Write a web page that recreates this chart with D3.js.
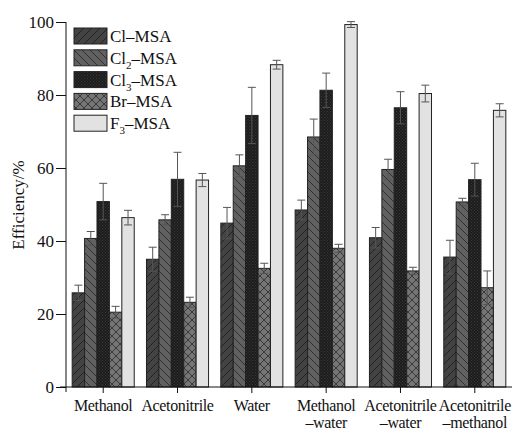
<!DOCTYPE html>
<html><head><meta charset="utf-8">
<script src="https://cdn.jsdelivr.net/npm/d3@7"></script>
<style>body{margin:0;background:#fff}svg{display:block}text{font-family:"Liberation Serif","Times New Roman",serif;fill:#111}</style>
</head><body><div id="c"></div>
<script>
const categories = [["Methanol"],["Acetonitrile"],["Water"],["Methanol","\u2013water"],["Acetonitrile","\u2013water"],["Acetonitrile","\u2013methanol"]];
const seriesNames = [["Cl\u2013MSA",""],["Cl","2","\u2013MSA"],["Cl","3","\u2013MSA"],["Br\u2013MSA",""],["F","3","\u2013MSA"]];
const clMSA  = [25.8, 35.0, 44.9, 48.5, 40.9, 35.6];
const cl2MSA = [40.7, 45.8, 60.6, 68.5, 59.6, 50.7];
const cl3MSA = [50.8, 56.9, 74.4, 81.3, 76.5, 56.8];
const brMSA  = [20.5, 23.2, 32.5, 38.0, 31.8, 27.2];
const f3MSA  = [46.4, 56.7, 88.3, 99.3, 80.4, 75.8];
const clErr  = [2.1, 3.3, 4.3, 2.7, 2.8, 4.6];
const cl2Err = [1.9, 1.4, 3.0, 4.9, 2.8, 1.0];
const cl3Err = [5.0, 7.4, 7.7, 4.7, 4.4, 4.5];
const brErr  = [1.6, 1.4, 1.4, 1.1, 1.0, 4.6];
const f3Err  = [2.0, 1.8, 1.2, 0.8, 2.3, 1.8];
const yTicks = [0, 20, 40, 60, 80, 100];

const values = [clMSA, cl2MSA, cl3MSA, brMSA, f3MSA];
const errs = [clErr, cl2Err, cl3Err, brErr, f3Err];

const W = 532, H = 432;
const svg = d3.select("#c").append("svg").attr("width", W).attr("height", H);
const defs = svg.append("defs");
function pat(id, bg, fn, size) {
  const p = defs.append("pattern").attr("id", id).attr("patternUnits", "userSpaceOnUse")
    .attr("width", size).attr("height", size);
  p.append("rect").attr("width", size).attr("height", size).attr("fill", bg);
  fn(p, size);
}
pat("p0", "#434343", (p, s) => {
  p.append("path").attr("d", `M0,${s} L${s},0 M${-s/2},${s/2} L${s/2},${-s/2} M${s/2},${s*1.5} L${s*1.5},${s/2}`).attr("stroke", "#1f1f1f").attr("stroke-width", 0.9);
}, 8);
pat("p1", "#616161", (p, s) => {
  p.append("path").attr("d", `M0,0 L${s},${s} M${-s/2},${s/2} L${s/2},${s*1.5} M${s/2},${-s/2} L${s*1.5},${s/2}`).attr("stroke", "#2a2a2a").attr("stroke-width", 0.9);
}, 8);
pat("p2", "#1c1c1c", (p, s) => {
  p.append("rect").attr("x", 0).attr("y", 0).attr("width", 1).attr("height", 1).attr("fill", "#3a3a3a");
  p.append("rect").attr("x", 1.5).attr("y", 1.5).attr("width", 1).attr("height", 1).attr("fill", "#3a3a3a");
}, 3);
pat("p3", "#757575", (p, s) => {
  p.append("path").attr("d", `M0,0 L${s},${s} M0,${s} L${s},0`).attr("stroke", "#333").attr("stroke-width", 0.9);
}, 8);
pat("p4", "#e2e2e2", () => {}, 4);

const x0 = d3.scaleBand().domain(d3.range(categories.length)).range([66, 512]).paddingInner(0.165).paddingOuter(0.083);
const x1 = d3.scaleBand().domain(d3.range(5)).range([0, x0.bandwidth()]);
const y = d3.scaleLinear().domain([0, 100]).range([387, 22]);

const g = svg.append("g");
values.forEach((vals, s) => {
  const gs = g.append("g");
  gs.selectAll("rect").data(vals).join("rect")
    .attr("x", (d, i) => x0(i) + x1(s))
    .attr("y", d => y(d))
    .attr("width", x1.bandwidth())
    .attr("height", d => y(0) - y(d))
    .attr("fill", `url(#p${s})`)
    .attr("stroke", "#222").attr("stroke-width", 1);
});
values.forEach((vals, s) => {
  const ge = g.append("g").attr("stroke", "#555").attr("stroke-width", 1).attr("fill", "none");
  vals.forEach((v, i) => {
    const cx = x0(i) + x1(s) + x1.bandwidth() / 2;
    const e = errs[s][i];
    ge.append("path").attr("d", `M${cx},${y(v + e)} L${cx},${y(v - e)} M${cx - 4},${y(v + e)} L${cx + 4},${y(v + e)} M${cx - 4},${y(v - e)} L${cx + 4},${y(v - e)}`);
  });
});

// axes
const yAxis = svg.append("g").attr("transform", "translate(66,0)")
  .call(d3.axisLeft(y).tickValues(yTicks).tickSize(10).tickPadding(2));
yAxis.select(".domain").attr("d", "M0,22 L0,392").attr("stroke", "#111");
yAxis.selectAll(".tick line").attr("stroke", "#111");
yAxis.selectAll("text").attr("font-size", 17).attr("font-family", "Liberation Serif").attr("fill", "#111");

const xAxis = svg.append("g").attr("transform", "translate(0,387)");
xAxis.append("line").attr("x1", 60).attr("x2", 512).attr("stroke", "#111");
categories.forEach((c, i) => {
  const cx = x0(i) + x0.bandwidth() / 2;
  xAxis.append("line").attr("x1", cx).attr("x2", cx).attr("y1", 0).attr("y2", 6).attr("stroke", "#111");
  const t = xAxis.append("text").attr("text-anchor", "middle").attr("font-size", 16)
    .attr("letter-spacing", -0.35).attr("fill", "#111");
  c.forEach((line, k) => t.append("tspan").attr("x", cx).attr("y", 24 + k * 17).text(line));
});

svg.append("text").attr("transform", "translate(24,205) rotate(-90)")
  .attr("text-anchor", "middle").attr("font-size", 17).text("Efficiency/%");

// legend
const lg = svg.append("g");
seriesNames.forEach((n, s) => {
  const ly = 28 + s * 21.8;
  lg.append("rect").attr("x", 74).attr("y", ly).attr("width", 33).attr("height", 16)
    .attr("fill", `url(#p${s})`).attr("stroke", "#222").attr("stroke-width", 1);
  const t = lg.append("text").attr("x", 110).attr("y", ly + 14).attr("font-size", 17);
  if (n.length === 2) t.text(n[0]);
  else {
    t.append("tspan").text(n[0]);
    t.append("tspan").attr("dy", 5).attr("font-size", 11).text(n[1]);
    t.append("tspan").attr("dy", -5).text(n[2]);
  }
});
</script></body></html>
